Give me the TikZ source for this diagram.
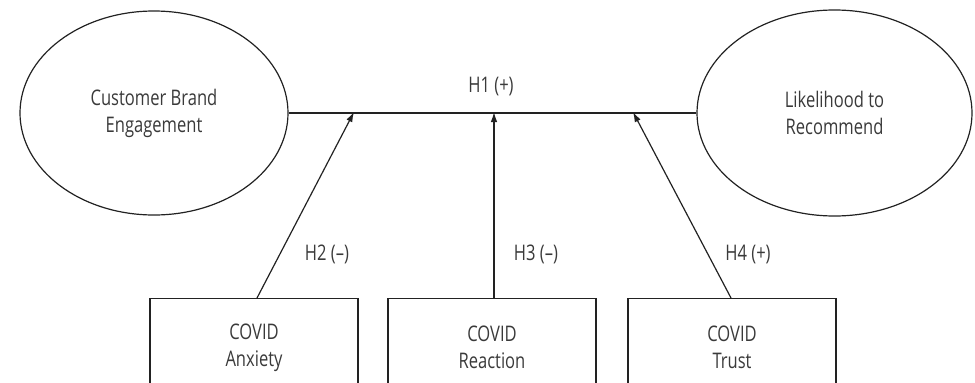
\documentclass[tikz,border=0pt]{standalone}
\usepackage{fontspec}
\setmainfont{Open Sans}[FakeStretch=0.77]
\usetikzlibrary{arrows.meta,shapes.geometric}
\definecolor{inkline}{HTML}{222222}
\definecolor{inktext}{HTML}{3A3A3A}
\begin{document}
\begin{tikzpicture}[x=1pt,y=-1pt,
  font=\fontsize{21.5}{27}\selectfont,
  every node/.style={text=inktext},
  construct/.style={draw=inkline,line width=1.2pt,ellipse,inner sep=0pt,
    minimum width=268pt,minimum height=204pt,align=center},
  factor/.style={draw=inkline,line width=1.2pt,rectangle,anchor=north,
    minimum width=208pt,minimum height=98pt,align=center},
  link/.style={draw=inkline,line width=1.2pt},
  effect/.style={link,-{Latex[length=10pt,width=6.5pt]}},
  hyp/.style={inner sep=0pt}]
\clip (0,0) rectangle (975,383);

% latent constructs
\node[construct] (cbe) at (154,113) {Customer Brand\\Engagement};
\node[construct,minimum width=275pt,minimum height=206pt] (ltr) at (834.5,113) {Likelihood to\\Recommend};

% main path H1
\draw[link] (cbe.east) -- (ltr.west);
\node[hyp] (h1) at (491,87) {H1 (+)};

% moderator boxes
\node[factor] (anx) at (254,298) {COVID\\Anxiety};
\node[factor] (rea) at (492,298) {COVID\\Reaction};
\node[factor] (tru) at (732,298) {COVID\\Trust};

% points where the moderators meet the H1 path
\coordinate (m2) at (354,112);
\coordinate (m3) at (494,112);
\coordinate (m4) at (633,112);

\draw[effect] (anx.north) ++(3,0) coordinate (a2) -- (m2);
\draw[effect] (rea.north) ++(2,0) coordinate (a3) -- (m3);
\draw[effect] (tru.north) ++(-1,0) coordinate (a4) -- (m4);

\node[hyp] (h2) at (327,254) {H2 (–)};
\node[hyp] (h3) at (536,254) {H3 (–)};
\node[hyp] (h4) at (748,254) {H4 (+)};
\end{tikzpicture}
\end{document}
